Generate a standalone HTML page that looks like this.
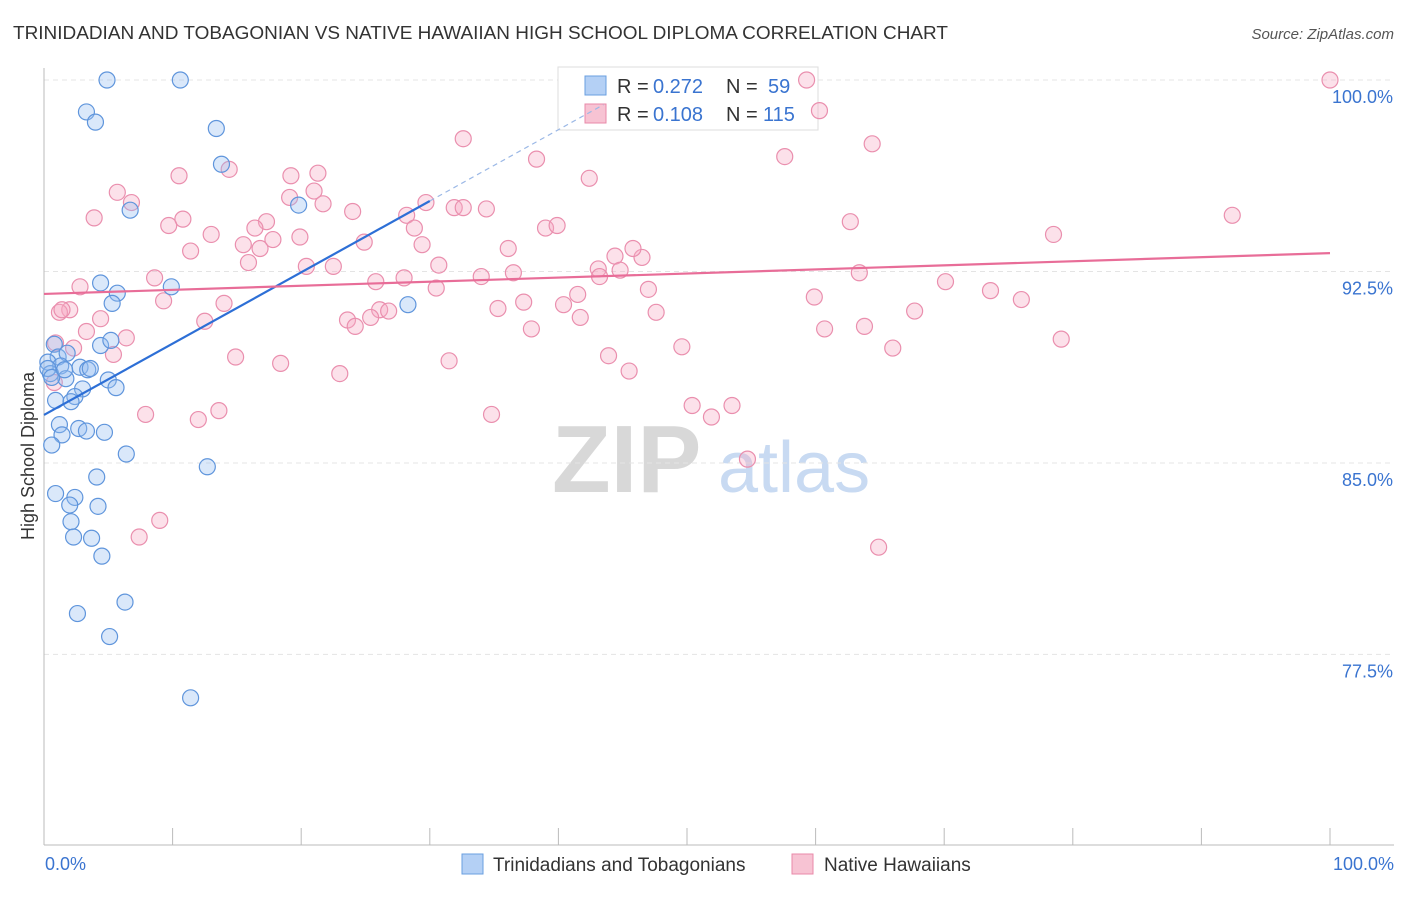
<!DOCTYPE html>
<html><head><meta charset="utf-8"><style>
body{margin:0;background:#fff;font-family:"Liberation Sans",sans-serif;}
svg text{font-family:"Liberation Sans",sans-serif;}
</style></head><body>
<svg id="chart" width="1406" height="892" xmlns="http://www.w3.org/2000/svg">
<text x="13" y="39" font-size="18" fill="#333" textLength="935" lengthAdjust="spacingAndGlyphs">TRINIDADIAN AND TOBAGONIAN VS NATIVE HAWAIIAN HIGH SCHOOL DIPLOMA CORRELATION CHART</text>
<text x="1394" y="39" font-size="15" fill="#555" text-anchor="end" font-style="italic">Source: ZipAtlas.com</text>
<text transform="translate(34,456) rotate(-90)" font-size="18" fill="#333" text-anchor="middle">High School Diploma</text>
<g>
<text x="552" y="492" font-size="96" fill="#d8d8d8" font-family="Liberation Serif" font-weight="bold">ZIP</text>
<text x="718" y="492" font-size="72" fill="#c8daf2">atlas</text>
</g>
<g id="grid"></g><g id="axes"></g>
<g>
<rect x="558" y="67" width="260" height="63" fill="#fff" stroke="#ddd"/>
<rect x="585" y="76" width="21" height="19" fill="#b4d0f5" stroke="#6a9fe0"/>
<rect x="585" y="104" width="21" height="19" fill="#f7c3d3" stroke="#e889a8"/>
<text x="617" y="93" font-size="20" fill="#333">R =</text>
<text x="653" y="93" font-size="20" fill="#3a74d0">0.272</text>
<text x="726" y="93" font-size="20" fill="#333">N =</text>
<text x="768" y="93" font-size="20" fill="#3a74d0">59</text>
<text x="617" y="121" font-size="20" fill="#333">R =</text>
<text x="653" y="121" font-size="20" fill="#3a74d0">0.108</text>
<text x="726" y="121" font-size="20" fill="#333">N =</text>
<text x="763" y="121" font-size="20" fill="#3a74d0">115</text>
</g>
<g id="pts"></g><g id="trends"></g>
<g>
<rect x="462" y="854" width="21" height="20" fill="#b4d0f5" stroke="#6a9fe0"/>
<text x="493" y="871" font-size="19" fill="#333">Trinidadians and Tobagonians</text>
<rect x="792" y="854" width="21" height="20" fill="#f7c3d3" stroke="#e889a8"/>
<text x="824" y="871" font-size="19" fill="#333">Native Hawaiians</text>
</g>
</svg>
<script>
const yTicks=[100,92.5,85,77.5];
const yTickLabels=["100.0%","92.5%","85.0%","77.5%"];
const xEdgeLabels=["0.0%","100.0%"];
const blueX=[4.9,10.6,3.3,4.0,13.4,13.8,6.7,19.8,4.4,5.7,9.9,5.3,28.3,4.4,5.2,0.8,1.1,1.8,0.3,1.3,2.8,3.4,0.5,1.7,5.0,5.6,3.0,2.4,0.9,2.1,1.2,2.7,3.3,1.4,4.7,0.6,6.4,12.7,4.1,0.9,2.4,2.0,4.2,2.1,2.3,3.7,4.5,6.3,2.6,5.1,11.4,0.3,0.6,1.6,3.6];
const blueY=[100,100,98.75,98.35,98.1,96.7,94.9,95.1,92.05,91.65,91.9,91.25,91.2,89.6,89.8,89.65,89.15,89.3,88.95,88.8,88.75,88.65,88.5,88.3,88.25,87.95,87.9,87.6,87.45,87.4,86.5,86.35,86.25,86.1,86.2,85.7,85.35,84.85,84.45,83.8,83.65,83.35,83.3,82.7,82.1,82.05,81.35,79.55,79.1,78.2,75.8,88.7,88.35,88.65,88.7];
const pinkX=[59.3,100,60.3,32.6,64.4,57.6,38.3,14.4,10.5,21.3,19.2,42.4,5.7,6.8,21.0,19.1,21.7,29.7,31.9,32.6,34.4,24.0,28.2,3.9,10.8,17.3,92.4,62.7,16.4,9.7,28.8,39.0,39.9,13.0,19.9,17.8,15.5,16.8,24.9,29.4,36.1,78.5,11.4,15.9,20.4,22.5,46.5,44.4,45.8,30.7,43.1,44.8,36.5,43.2,34.0,63.4,8.6,25.8,28.0,70.1,2.8,30.5,47.0,73.6,76.0,9.3,14.0,41.5,59.9,37.3,40.4,35.3,47.6,67.7,2.0,1.2,26.1,26.8,23.6,25.4,24.2,12.5,4.4,41.7,37.9,63.8,60.7,3.3,6.4,0.9,2.3,79.1,49.6,66.0,5.4,14.9,43.9,31.5,18.4,23.0,45.5,0.8,7.9,13.6,12.0,50.4,53.5,51.9,34.8,54.7,9.0,7.4,64.9,1.4];
const pinkY=[100,100,98.8,97.7,97.5,97.0,96.9,96.5,96.25,96.35,96.25,96.15,95.6,95.2,95.65,95.4,95.15,95.2,95.0,95.0,94.95,94.85,94.7,94.6,94.55,94.45,94.7,94.45,94.2,94.3,94.2,94.2,94.3,93.95,93.85,93.75,93.55,93.4,93.65,93.55,93.4,93.95,93.3,92.85,92.7,92.7,93.05,93.1,93.4,92.75,92.6,92.55,92.45,92.3,92.3,92.45,92.25,92.1,92.25,92.1,91.9,91.85,91.8,91.75,91.4,91.35,91.25,91.6,91.5,91.3,91.2,91.05,90.9,90.95,91.0,90.9,91.0,90.95,90.6,90.7,90.35,90.55,90.65,90.7,90.25,90.35,90.25,90.15,89.9,89.7,89.5,89.85,89.55,89.5,89.25,89.15,89.2,89.0,88.9,88.5,88.6,88.15,86.9,87.05,86.7,87.25,87.25,86.8,86.9,85.15,82.75,82.1,81.7,91.0];
const blueTrendX=[0,30],blueTrendY=[86.88,95.26];
const blueDashX=[30,43.5];
const pinkTrendX=[0,100],pinkTrendY=[91.62,93.22];
const NS="http://www.w3.org/2000/svg";
const X=v=>44+v*12.86, Y=v=>80+(100-v)*25.53;
function mk(tag,attrs,parent){const e=document.createElementNS(NS,tag);for(const k in attrs)e.setAttribute(k,attrs[k]);document.getElementById(parent).appendChild(e);return e;}
yTicks.forEach((t,i)=>{
 const l=mk('line',{x1:44,x2:1394,y1:Y(t),y2:Y(t),stroke:'#e4e4e4','stroke-dasharray':'5,4'},'grid');
 
 
 const tx=mk('text',{x:1393,y:Y(t)+23,'font-size':18,fill:'#3a74d0','text-anchor':'end'},'grid');
 tx.textContent=yTickLabels[i];
 
 
});
const ax=mk('line',{x1:44,x2:44,y1:68,y2:845,stroke:'#bbb'},'axes');


const bx=mk('line',{x1:44,x2:1394,y1:845,y2:845,stroke:'#bbb'},'axes');


for(let i=0;i<=10;i++){const t=mk('line',{x1:X(i*10),x2:X(i*10),y1:828,y2:845,stroke:'#bbb'},'axes');
 
 }
[[0,'start',45],[100,'end',1394]].forEach((d,i)=>{const t=mk('text',{x:d[2],y:870,'font-size':18,fill:'#3a74d0','text-anchor':d[1]},'axes');t.textContent=xEdgeLabels[i];
 
 });
pinkX.forEach((v,i)=>{const c=mk('circle',{cx:X(v),cy:Y(pinkY[i]),r:8,fill:'rgba(245,170,195,0.35)',stroke:'#ea8fae','stroke-width':1.2},'pts');
 
 });
blueX.forEach((v,i)=>{const c=mk('circle',{cx:X(v),cy:Y(blueY[i]),r:8,fill:'rgba(150,190,240,0.35)',stroke:'#5f95dc','stroke-width':1.2},'pts');
 
 });
const slope=(blueTrendY[1]-blueTrendY[0])/(blueTrendX[1]-blueTrendX[0]);
const bt=mk('line',{x1:X(blueTrendX[0]),y1:Y(blueTrendY[0]),x2:X(blueTrendX[1]),y2:Y(blueTrendY[1]),stroke:'#2d6fd6','stroke-width':2.2},'trends');


const bd=mk('line',{x1:X(blueDashX[0]),y1:Y(blueTrendY[0]+slope*blueDashX[0]),x2:X(blueDashX[1]),y2:Y(blueTrendY[0]+slope*blueDashX[1]),stroke:'#9bb8e6','stroke-width':1.2,'stroke-dasharray':'5,4'},'trends');


const pt=mk('line',{x1:X(pinkTrendX[0]),y1:Y(pinkTrendY[0]),x2:X(pinkTrendX[1]),y2:Y(pinkTrendY[1]),stroke:'#e86d98','stroke-width':2.2},'trends');


</script>
</body></html>
